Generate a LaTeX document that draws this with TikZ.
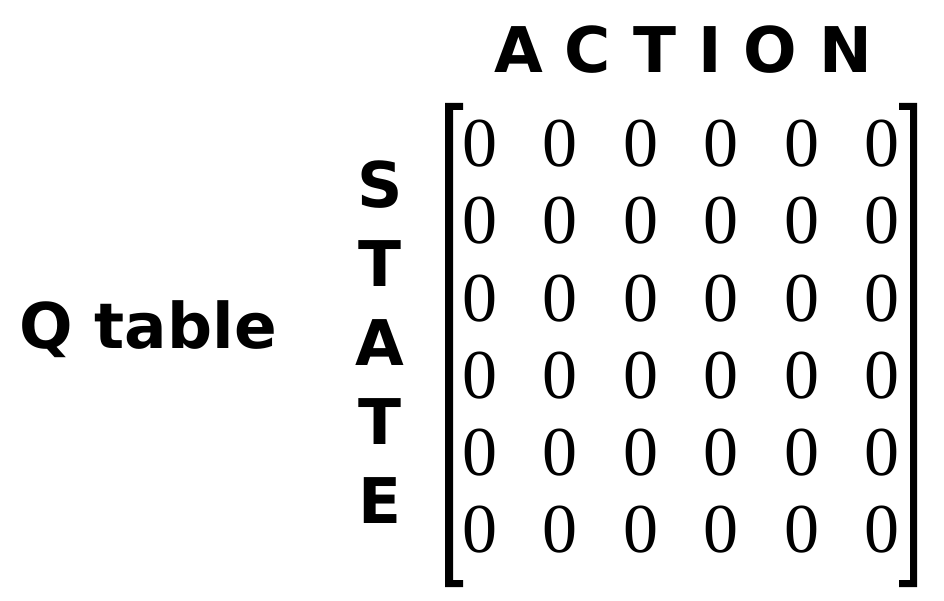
\documentclass[tikz,border=0pt]{standalone}
\usepackage{fontspec}
\setmainfont{Liberation Serif}
\newfontfamily\techfont{DejaVu Sans}
\tikzset{
  tech/.style={inner sep=0pt, font=\techfont\bfseries\fontsize{63}{79}\selectfont},
  zero/.style={inner sep=0pt, font=\fontsize{70}{70}\selectfont},
  bracket/.style={fill=black, draw=none}
}
\begin{document}
\begin{tikzpicture}[x=1pt,y=-1pt]
\useasboundingbox (0,0) rectangle (944,601);
\fill[white] (0,0) rectangle (944,601);
\node[tech, anchor=base west] (qt) at (19,348) {Q table};
\node[tech, anchor=base west] (act) at (494,73) {A\kern22pt C\kern22pt T\kern22pt I\kern22pt O\kern22pt N};
\node[tech, align=center, anchor=center] (st) at (380,342.5) {S\\T\\A\\T\\E};
\foreach \r in {1,...,6}{
  \foreach \c in {1,...,6}{
    \node[zero] (z-\r-\c) at ({480+80.4*(\c-1)},{143.5+77.3*(\r-1)}) {0};
  }
}
\fill[bracket] (445,103) -- (463,103) -- (463,110) -- (453,110) -- (453,580) -- (463,580) -- (463,587) -- (445,587) -- cycle;
\fill[bracket] (917,103) -- (899,103) -- (899,110) -- (910,110) -- (910,580) -- (899,580) -- (899,587) -- (917,587) -- cycle;
\end{tikzpicture}
\end{document}
